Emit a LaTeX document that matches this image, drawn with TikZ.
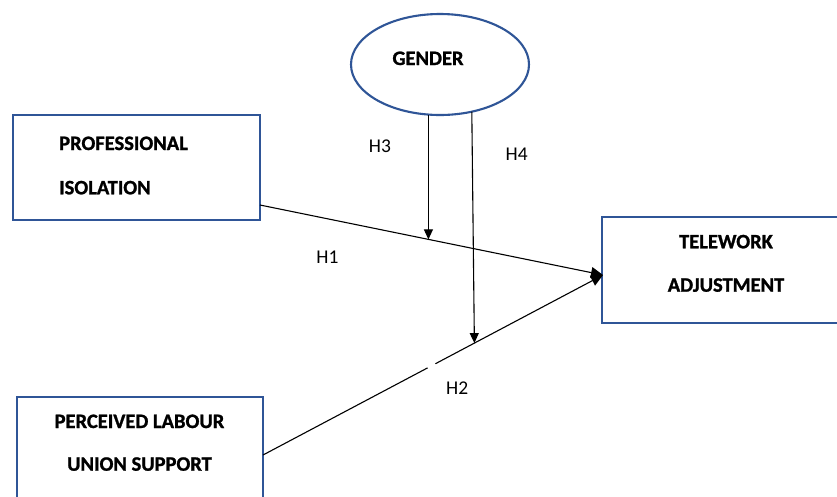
\documentclass[tikz,border=0pt]{standalone}
\usepackage{fontspec}
\setmainfont{Carlito}[BoldFeatures={FakeBold=1.2}]
\usetikzlibrary{arrows.meta,calc,shapes.geometric}
\definecolor{boxblue}{RGB}{47,85,151}
\begin{document}
\begin{tikzpicture}[x=1pt,y=-1pt,
  box/.style={draw=boxblue, line width=2.9pt, rectangle, inner sep=0pt, outer sep=0pt},
  oval/.style={draw=boxblue, line width=2.1pt, ellipse, inner sep=0pt, outer sep=0pt},
  lbl/.style={font=\fontsize{20.5}{24}\selectfont\bfseries, inner sep=0pt},
  hlab/.style={font=\fontsize{19.5}{24}\selectfont, inner sep=0pt, anchor=base},
  arr/.style={line width=1.1pt, -{Triangle[length=12pt,width=11pt]}},
  marr/.style={line width=1.1pt, -{Triangle[length=10pt,width=9pt]}},
  plain/.style={line width=1.1pt}]
\clip (0,0) rectangle (837,496);
\fill[white] (0,0) rectangle (837,496);

% boxes
\node[box, minimum width=247pt, minimum height=105pt] (pi) at (136.5,167.5) {};
\node[box, minimum width=246pt, minimum height=108pt] (pls) at (140,451) {};
\node[box, minimum width=248pt, minimum height=106pt] (tw) at (726,270) {};
\node[oval, minimum width=178pt, minimum height=101pt] (gender) at (440,64.5) {};

% texts
\node[lbl, anchor=base west] (t1) at (59,150) {PROFESSIONAL};
\node[lbl, anchor=base west] (t2) at (59,194.3) {ISOLATION};
\node[lbl, anchor=base] (t3) at (139.5,428) {PERCEIVED LABOUR};
\node[lbl, anchor=base] (t4) at (139.5,470.7) {UNION SUPPORT};
\node[lbl, anchor=base] (t5) at (726,248.3) {TELEWORK};
\node[lbl, anchor=base] (t6) at (726,291.7) {ADJUSTMENT};
\node[lbl, anchor=base] (t7) at (428,65) {GENDER};

% connector end points
\coordinate (s1) at ($(pi.south east)+(0,-15)$);
\coordinate (s2) at ($(pls.east)+(0,4)$);
\coordinate (tgt) at ($(tw.west)+(1,5)$);
\coordinate (h3end) at ($(s1)!0.491!(tgt)$);
\coordinate (h4end) at ($(s2)!0.6217!(tgt)$);

% connectors
\draw[arr] (s1) -- (tgt);
\draw[plain] (s2) -- ($(s2)!0.484!(tgt)$);
\draw[arr] ($(s2)!0.507!(tgt)$) -- (tgt);
\draw[marr] (gender.south -| h3end) -- (h3end);
\draw[marr] (gender.-56) -- (h4end);

% labels
\node[hlab] (h1) at (327.5,263.3) {H1};
\node[hlab] (h2) at (457.2,394) {H2};
\node[hlab] (h3) at (380,152.3) {H3};
\node[hlab] (h4) at (516.7,160) {H4};
\end{tikzpicture}
\end{document}
